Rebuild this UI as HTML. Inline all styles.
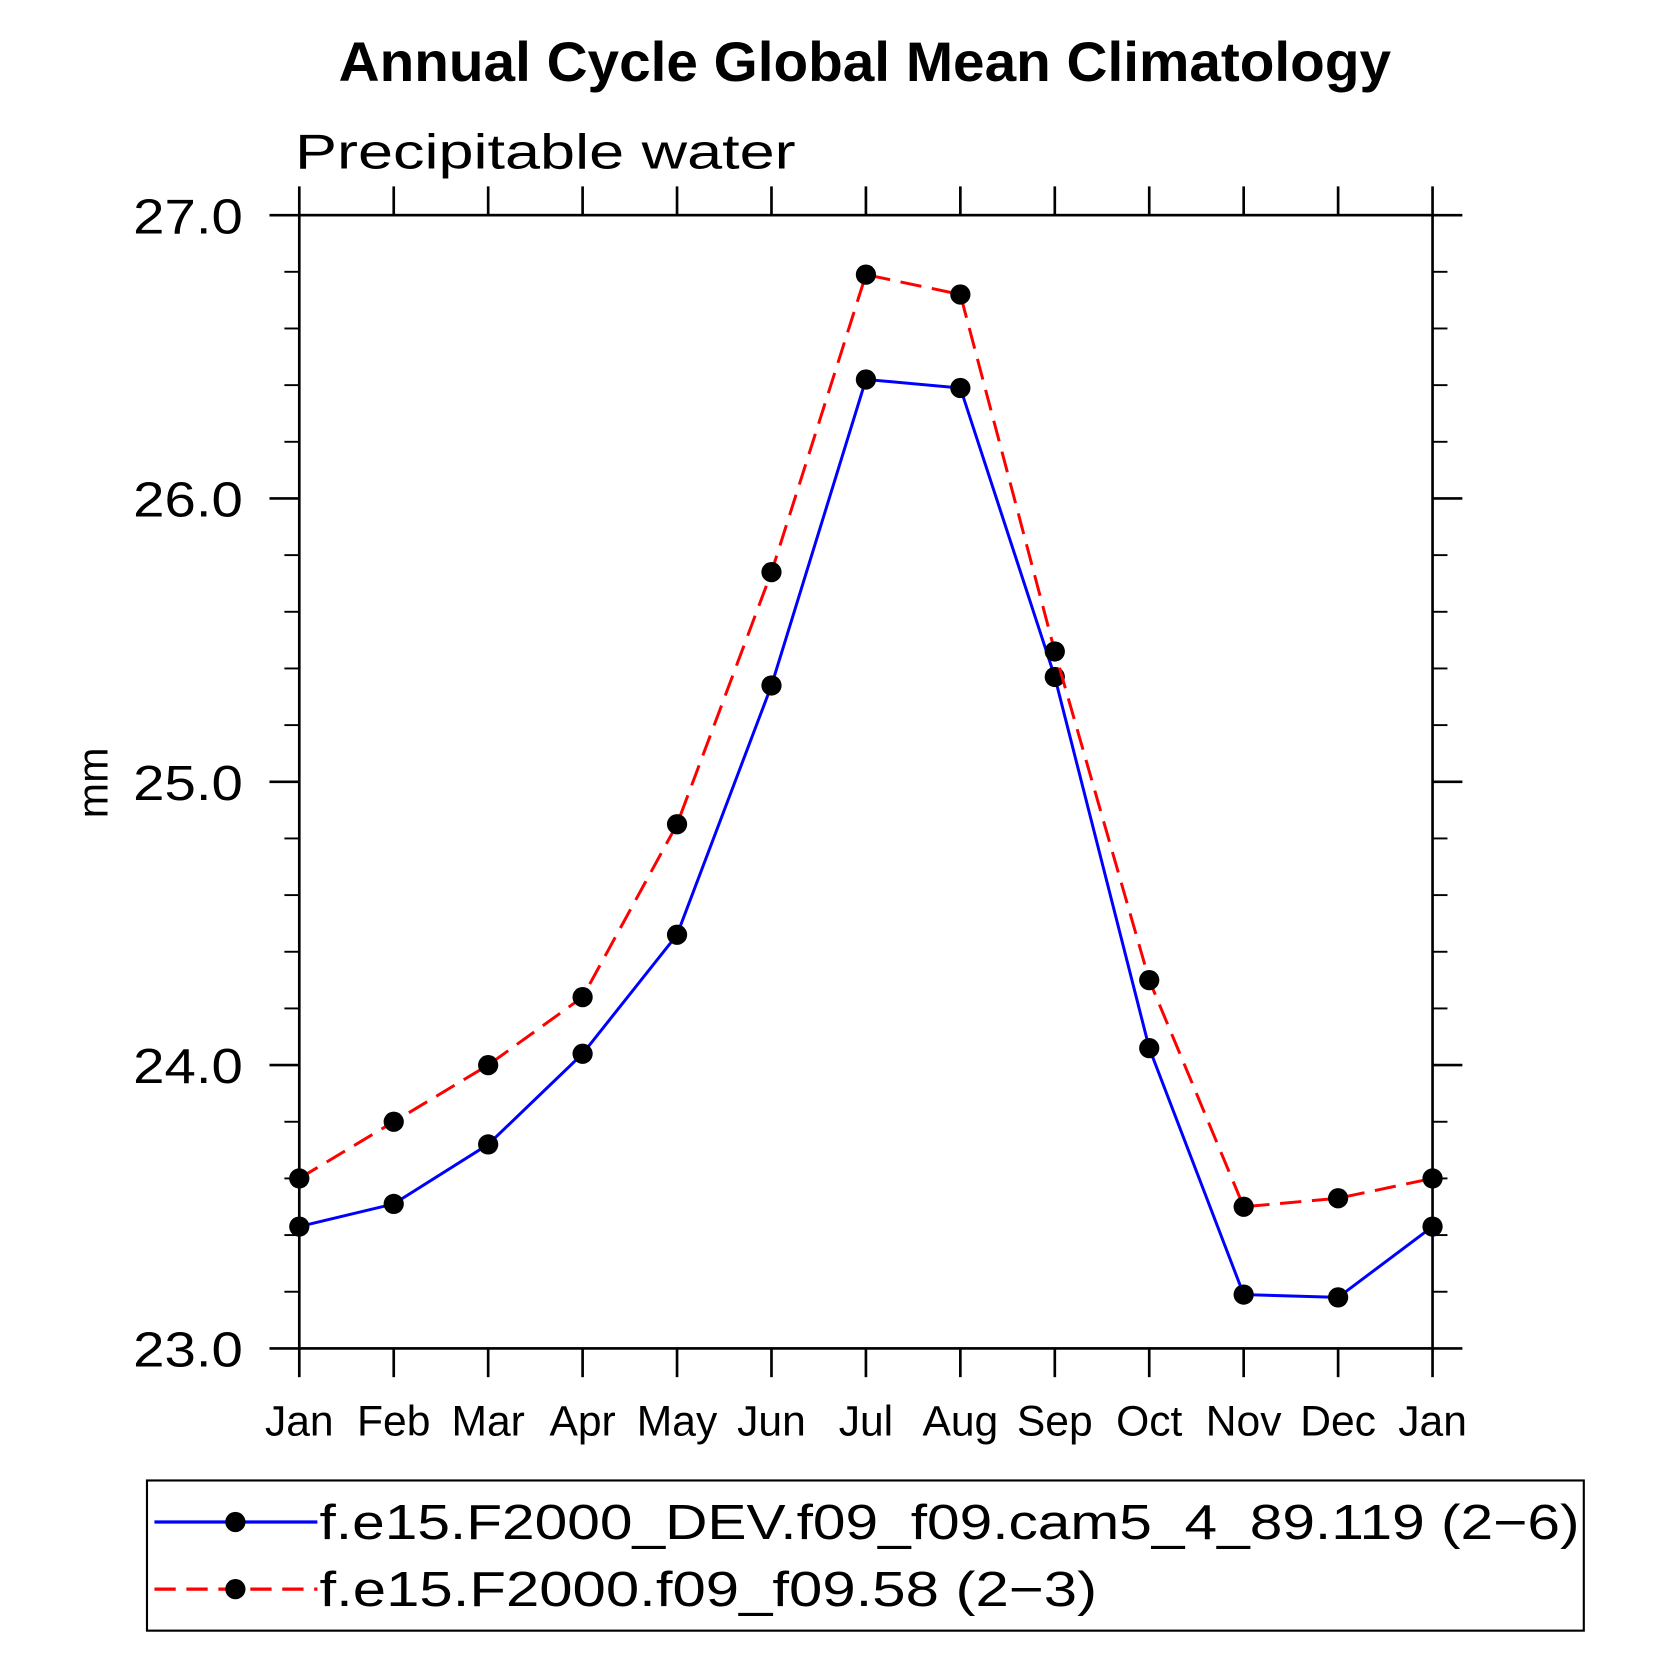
<!DOCTYPE html>
<html><head><meta charset="utf-8"><style>
html,body{margin:0;padding:0;background:#fff}
svg{display:block}
text{font-family:"Liberation Sans",sans-serif}
</style></head><body>
<svg id="chart" width="1669" height="1669" viewBox="0 0 1567 1567" xmlns="http://www.w3.org/2000/svg">
<rect width="1567" height="1567" fill="#fff"/>
<text x="812" y="76" font-size="52" font-weight="bold" text-anchor="middle" textLength="988" lengthAdjust="spacingAndGlyphs">Annual Cycle Global Mean Climatology</text>
<text x="277" y="158" font-size="46" textLength="470" lengthAdjust="spacingAndGlyphs">Precipitable water</text>
<text transform="translate(101,735) rotate(-90)" font-size="40" text-anchor="middle">mm</text>
<g id="axes"></g>
<g id="series"></g>
<g>
<rect x="138" y="1390" width="1349" height="141" fill="none" stroke="#000" stroke-width="2"/>
<line x1="145" y1="1429" x2="298" y2="1429" stroke="#0000ff" stroke-width="3"/>
<circle cx="221" cy="1429" r="9.5" fill="#000"/>
<text x="300" y="1445" font-size="46" textLength="1183" lengthAdjust="spacingAndGlyphs">f.e15.F2000_DEV.f09_f09.cam5_4_89.119 (2−6)</text>
<line x1="145" y1="1492" x2="298" y2="1492" stroke="#ff0000" stroke-width="3" stroke-dasharray="20,10"/>
<circle cx="221" cy="1492" r="9.5" fill="#000"/>
<text x="300" y="1508" font-size="46" textLength="730" lengthAdjust="spacingAndGlyphs">f.e15.F2000.f09_f09.58 (2−3)</text>
</g>
</svg>
<script>
const months = ["Jan","Feb","Mar","Apr","May","Jun","Jul","Aug","Sep","Oct","Nov","Dec","Jan"];
const devValues = [23.43,23.51,23.72,24.04,24.46,25.34,26.42,26.39,25.37,24.06,23.19,23.18,23.43];
const ctrlValues = [23.60,23.80,24.00,24.24,24.85,25.74,26.79,26.72,25.46,24.30,23.50,23.53,23.60];
const yTicks = [23,24,25,26,27];
const yTickLabels = ["23.0","24.0","25.0","26.0","27.0"];

const NS="http://www.w3.org/2000/svg";
const L=281,R=1345,T=202,B=1266,yMin=23,yMax=27;
const xs=i=>L+(R-L)*i/(months.length-1);
const ys=v=>B-(v-yMin)/(yMax-yMin)*(B-T);
function mk(tag,attrs,parent){const e=document.createElementNS(NS,tag);for(const k in attrs)e.setAttribute(k,attrs[k]);parent.appendChild(e);return e;}
const ax=document.getElementById('axes');
let f=mk('rect',{x:L,y:T,width:R-L,height:B-T,fill:'none',stroke:'#000','stroke-width':2.5},ax);


months.forEach((m,i)=>{
  const x=xs(i);
  mk('line',{x1:x,y1:B,x2:x,y2:B+27,stroke:'#000','stroke-width':2.5},ax);
  mk('line',{x1:x,y1:T,x2:x,y2:T-27,stroke:'#000','stroke-width':2.5},ax);
  const t=mk('text',{x:x,y:1348,'font-size':40,'text-anchor':'middle'},ax);
  t.textContent=m;
  
  
});
for(let v=yMin;v<=yMax+1e-6;v+=0.2){
  const y=ys(v);
  const major=Math.abs(v-Math.round(v))<1e-6;
  const len=major?28:14;
  mk('line',{x1:L-len,y1:y,x2:L,y2:y,stroke:'#000','stroke-width':major?2.5:1.8},ax);
  mk('line',{x1:R,y1:y,x2:R+len,y2:y,stroke:'#000','stroke-width':major?2.5:1.8},ax);
}
yTicks.forEach((v,i)=>{
  const t=mk('text',{x:228,y:ys(v)+17,'font-size':46,'text-anchor':'end',textLength:103,lengthAdjust:'spacingAndGlyphs'},ax);
  t.textContent=yTickLabels[i];
  
  
});
const sg=document.getElementById('series');
function draw(vals,color,dash,name){
  const p=mk('polyline',{points:vals.map((v,i)=>xs(i)+','+ys(v)).join(' '),fill:'none',stroke:color,'stroke-width':2.8,'stroke-dasharray':dash},sg);
  
  
  vals.forEach((v,i)=>{
    const c=mk('circle',{cx:xs(i),cy:ys(v),r:9.5,fill:'#000'},sg);
    
    
  });
}
draw(devValues,'#0000ff','none','dev-series');
draw(ctrlValues,'#ff0000','20,10','ctrl-series');
</script>
</body></html>
